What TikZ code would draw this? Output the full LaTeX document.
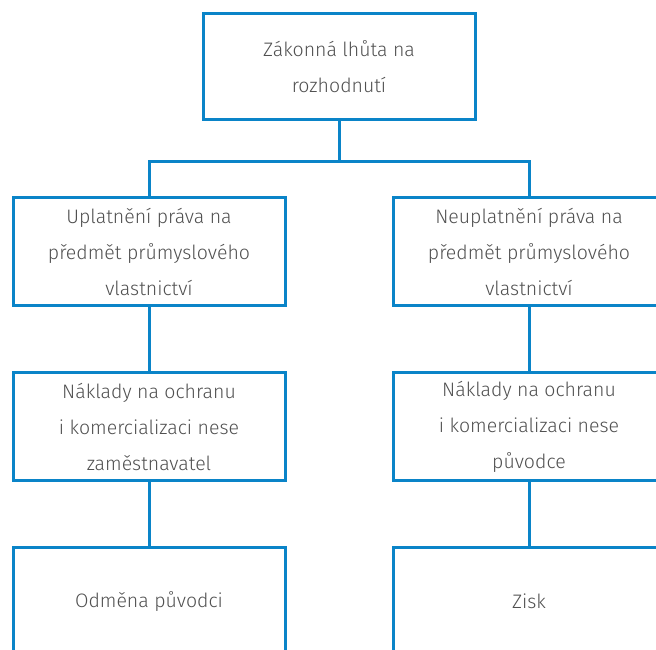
\documentclass[tikz,border=0pt]{standalone}
\usepackage{fontspec}
\setmainfont{Fira Sans Light}
\definecolor{linkblue}{HTML}{0A84C8}
\definecolor{textgray}{HTML}{505050}
\begin{document}
\begin{tikzpicture}[x=1pt,y=1pt,
  box/.style={draw=linkblue, line width=3pt, fill=white, rectangle,
    minimum width=272pt, minimum height=108pt, align=center,
    text=textgray, font=\fontsize{19.5}{36}\selectfont, inner sep=0pt},
  link/.style={draw=linkblue, line width=3pt, line join=miter}]
  \useasboundingbox (0,0) rectangle (656,650);
  \begin{scope}
    \clip (0,0) rectangle (656,650);
    % decision deadline at the top
    \node[box, minimum height=106.5pt] (top) at (339,583.3) {Zákonná lhůta na\\rozhodnutí};
    % left branch
    \node[box] (l1) at (149,398) {Uplatnění práva na\\předmět průmyslového\\vlastnictví};
    \node[box] (l2) at (149,223) {Náklady na ochranu\\i komercializaci nese\\zaměstnavatel};
    \node[box] (l3) at (149,48.25) {Odměna původci};
    % right branch
    \node[box] (r1) at (529,398) {Neuplatnění práva na\\předmět průmyslového\\vlastnictví};
    \node[box] (r2) at (529,223) {Náklady na ochranu\\i komercializaci nese\\původce};
    \node[box] (r3) at (529,48.25) {Zisk};
    % split bar below the top box
    \coordinate (bar) at (339,488);
    \draw[link] (top.south) -- (bar);
    \draw[link] (l1.north) -- (l1.north |- bar) -- (r1.north |- bar) -- (r1.north);
    % vertical connectors between rows
    \draw[link] (l1.south) -- (l2.north);
    \draw[link] (l2.south) -- (l3.north);
    \draw[link] (r1.south) -- (r2.north);
    \draw[link] (r2.south) -- (r3.north);
  \end{scope}
\end{tikzpicture}
\end{document}
